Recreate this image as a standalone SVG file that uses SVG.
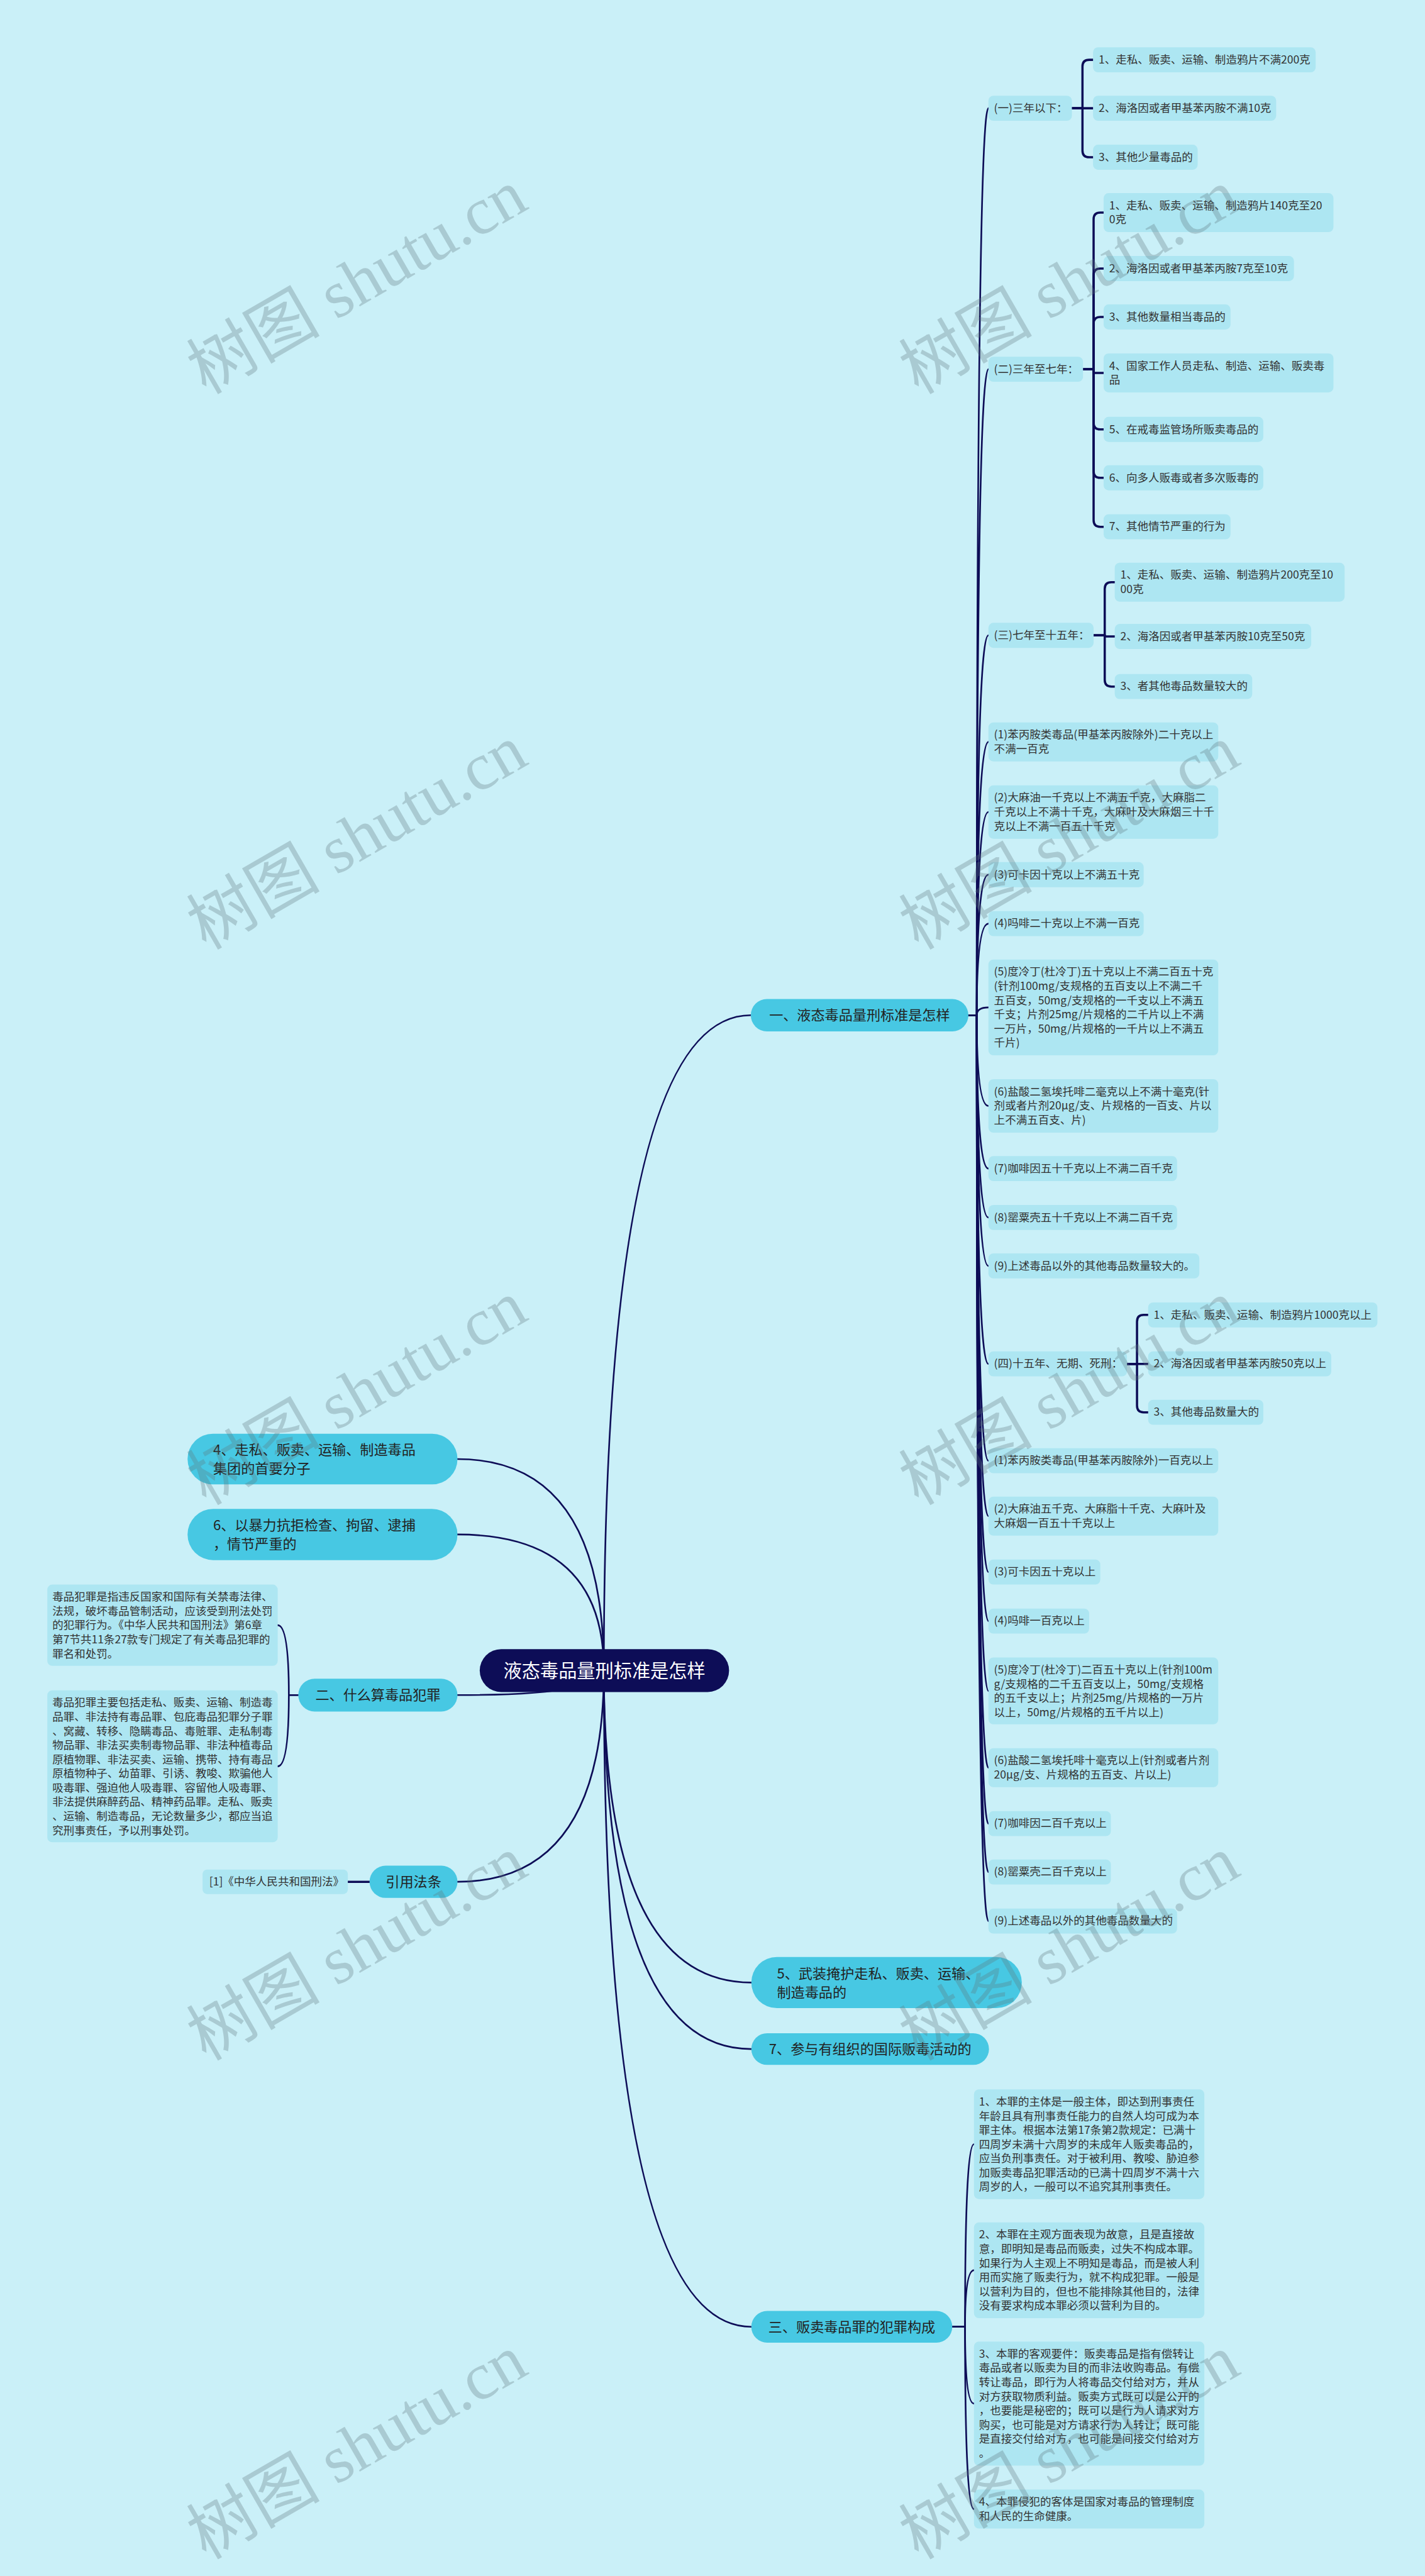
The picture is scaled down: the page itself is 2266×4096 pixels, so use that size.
<svg xmlns="http://www.w3.org/2000/svg" width="2266" height="4096" viewBox="0 0 2266 4096">
<style>
.bg{fill:#CAF0F8}
.n{fill:#ADE6F2}
.b{fill:#47C8E3}
.t{font-family:"Noto Sans CJK SC","Liberation Sans",sans-serif;font-size:19.8px;fill:#333}
.bt{font-family:"Noto Sans CJK SC","Liberation Sans",sans-serif;font-size:25px;fill:#222}
.rt{font-family:"Noto Sans CJK SC","Liberation Sans",sans-serif;font-size:33px;fill:#fff}
.c{fill:none;stroke:#0D0D57;stroke-width:3;stroke-linecap:round}
.k{fill:none;stroke:#0D0D57;stroke-width:4;stroke-linecap:round;stroke-linejoin:round}
.w{font-family:"Liberation Serif","Noto Sans CJK SC",serif;font-size:120px;fill:#5E767C;opacity:.3}
</style>
<rect class="bg" x="0" y="0" width="2266" height="4096"/>
<g transform="scale(0.885)">
<g id="connectors">
<path class="c" d="M1085 3001 Q1085 1824 1349 1824"/>
<path class="c" d="M1085 3001 Q1085 2621.5 822 2621.5"/>
<path class="c" d="M1085 3001 Q1085 2757 822 2757"/>
<path class="c" d="M1085 3001 Q1085 3045.5 822 3045.5"/>
<path class="c" d="M1085 3001 Q1085 3381 822 3381"/>
<path class="c" d="M1085 3001 Q1085 3562 1350 3562"/>
<path class="c" d="M1085 3001 Q1085 3681.5 1350 3681.5"/>
<path class="c" d="M1085 3001 Q1085 4180.5 1350 4180.5"/>
<path class="c" d="M1738 1824 L1755 1824 Q1755 194.5 1776 194.5"/>
<path class="c" d="M1738 1824 L1755 1824 Q1755 663.5 1776 663.5"/>
<path class="c" d="M1738 1824 L1755 1824 Q1755 1141.5 1776 1141.5"/>
<path class="c" d="M1738 1824 L1755 1824 Q1755 1333 1776 1333"/>
<path class="c" d="M1738 1824 L1755 1824 Q1755 1459 1776 1459"/>
<path class="c" d="M1738 1824 L1755 1824 Q1755 1571.5 1776 1571.5"/>
<path class="c" d="M1738 1824 L1755 1824 Q1755 1659.5 1776 1659.5"/>
<path class="c" d="M1738 1824 L1755 1824 Q1755 1810 1776 1810"/>
<path class="c" d="M1738 1824 L1755 1824 Q1755 1987 1776 1987"/>
<path class="c" d="M1738 1824 L1755 1824 Q1755 2099.5 1776 2099.5"/>
<path class="c" d="M1738 1824 L1755 1824 Q1755 2187.5 1776 2187.5"/>
<path class="c" d="M1738 1824 L1755 1824 Q1755 2274.5 1776 2274.5"/>
<path class="c" d="M1738 1824 L1755 1824 Q1755 2450.5 1776 2450.5"/>
<path class="c" d="M1738 1824 L1755 1824 Q1755 2624.5 1776 2624.5"/>
<path class="c" d="M1738 1824 L1755 1824 Q1755 2724 1776 2724"/>
<path class="c" d="M1738 1824 L1755 1824 Q1755 2824.5 1776 2824.5"/>
<path class="c" d="M1738 1824 L1755 1824 Q1755 2912.5 1776 2912.5"/>
<path class="c" d="M1738 1824 L1755 1824 Q1755 3038 1776 3038"/>
<path class="c" d="M1738 1824 L1755 1824 Q1755 3176 1776 3176"/>
<path class="c" d="M1738 1824 L1755 1824 Q1755 3276.5 1776 3276.5"/>
<path class="c" d="M1738 1824 L1755 1824 Q1755 3363.5 1776 3363.5"/>
<path class="c" d="M1738 1824 L1755 1824 Q1755 3451.5 1776 3451.5"/>
<path class="c" d="M1711 4180.5 L1734 4180.5 Q1734 3852.5 1750 3852.5"/>
<path class="c" d="M1711 4180.5 L1734 4180.5 Q1734 4079 1750 4079"/>
<path class="c" d="M1711 4180.5 L1734 4180.5 Q1734 4318.5 1750 4318.5"/>
<path class="c" d="M1711 4180.5 L1734 4180.5 Q1734 4508 1750 4508"/>
<path class="c" d="M536 3045.5 L519 3045.5 Q519 2920 499 2920"/>
<path class="c" d="M536 3045.5 L519 3045.5 Q519 3173.5 499 3173.5"/>
<path class="k" d="M664 3381 L625 3381"/>
<path class="k" d="M1926 194.5 H1945 V119.5 Q1945 107.5 1957 107.5 H1964"/>
<path class="k" d="M1926 194.5 H1964"/>
<path class="k" d="M1926 194.5 H1945 V270.5 Q1945 282.5 1957 282.5 H1964"/>
<path class="k" d="M1946 663.5 H1965 V394 Q1965 382 1977 382 H1983"/>
<path class="k" d="M1946 663.5 H1965 V494.5 Q1965 482.5 1977 482.5 H1983"/>
<path class="k" d="M1946 663.5 H1965 V581.5 Q1965 569.5 1977 569.5 H1983"/>
<path class="k" d="M1946 663.5 H1965 V670 H1983"/>
<path class="k" d="M1946 663.5 H1965 V759.5 Q1965 771.5 1977 771.5 H1983"/>
<path class="k" d="M1946 663.5 H1965 V846.5 Q1965 858.5 1977 858.5 H1983"/>
<path class="k" d="M1946 663.5 H1965 V934.5 Q1965 946.5 1977 946.5 H1983"/>
<path class="k" d="M1965 1141.5 H1985 V1058 Q1985 1046 1997 1046 H2003"/>
<path class="k" d="M1965 1141.5 H1985 V1143.5 H2003"/>
<path class="k" d="M1965 1141.5 H1985 V1221.5 Q1985 1233.5 1997 1233.5 H2003"/>
<path class="k" d="M2025 2450.5 H2043 V2374.5 Q2043 2362.5 2055 2362.5 H2063"/>
<path class="k" d="M2025 2450.5 H2063"/>
<path class="k" d="M2025 2450.5 H2043 V2525.5 Q2043 2537.5 2055 2537.5 H2063"/>
</g>

<g id="root">
<rect x="862" y="2963" width="448" height="77" rx="38.5" fill="#0D0D57"/>
<text class="rt" x="1086" y="3013" text-anchor="middle">液态毒品量刑标准是怎样</text>
</g>

<g id="b1">
<rect class="b" x="1349" y="1795" width="391" height="58" rx="29"/>
<text class="bt" x="1544.5" y="1833" text-anchor="middle">一、液态毒品量刑标准是怎样</text>
</g>
<g id="b4">
<rect class="b" x="337" y="2576" width="485" height="91" rx="45.5"/>
<text class="bt" x="383" y="2614"><tspan x="383">4、走私、贩卖、运输、制造毒品</tspan><tspan x="383" dy="33">集团的首要分子</tspan></text>
</g>
<g id="b6">
<rect class="b" x="337" y="2711" width="485" height="92" rx="46"/>
<text class="bt" x="383" y="2749.5"><tspan x="383">6、以暴力抗拒检查、拘留、逮捕</tspan><tspan x="383" dy="33">，情节严重的</tspan></text>
</g>
<g id="b2">
<rect class="b" x="536" y="3016" width="286" height="59" rx="29.5"/>
<text class="bt" x="679" y="3054.5" text-anchor="middle">二、什么算毒品犯罪</text>
</g>
<g id="bref">
<rect class="b" x="664" y="3352" width="158" height="58" rx="29"/>
<text class="bt" x="743" y="3390" text-anchor="middle">引用法条</text>
</g>
<g id="b5">
<rect class="b" x="1350" y="3516" width="486" height="92" rx="46"/>
<text class="bt" x="1396" y="3554.5"><tspan x="1396">5、武装掩护走私、贩卖、运输、</tspan><tspan x="1396" dy="34">制造毒品的</tspan></text>
</g>
<g id="b7">
<rect class="b" x="1350" y="3653" width="427" height="57" rx="28.5"/>
<text class="bt" x="1563.5" y="3690.5" text-anchor="middle">7、参与有组织的国际贩毒活动的</text>
</g>
<g id="b3">
<rect class="b" x="1350" y="4152" width="361" height="57" rx="28.5"/>
<text class="bt" x="1530.5" y="4189.5" text-anchor="middle">三、贩卖毒品罪的犯罪构成</text>
</g>

<g id="ref1">
<rect class="n" x="364" y="3359" width="261" height="44" rx="8"/>
<text class="t" x="376" y="3388">[1]《中华人民共和国刑法》</text>
</g>
<g id="l1">
<rect class="n" x="85" y="2847" width="414" height="146" rx="9"/>
<text class="t" x="94" y="2876"><tspan x="94">毒品犯罪是指违反国家和国际有关禁毒法律、</tspan><tspan x="94" dy="25.5">法规，破坏毒品管制活动，应该受到刑法处罚</tspan><tspan x="94" dy="25.5">的犯罪行为。《中华人民共和国刑法》第6章</tspan><tspan x="94" dy="25.5">第7节共11条27款专门规定了有关毒品犯罪的</tspan><tspan x="94" dy="25.5">罪名和处罚。</tspan></text>
</g>
<g id="l2">
<rect class="n" x="85" y="3037" width="414" height="273" rx="9"/>
<text class="t" x="94" y="3066"><tspan x="94">毒品犯罪主要包括走私、贩卖、运输、制造毒</tspan><tspan x="94" dy="25.5">品罪、非法持有毒品罪、包庇毒品犯罪分子罪</tspan><tspan x="94" dy="25.5">、窝藏、转移、隐瞒毒品、毒赃罪、走私制毒</tspan><tspan x="94" dy="25.5">物品罪、非法买卖制毒物品罪、非法种植毒品</tspan><tspan x="94" dy="25.5">原植物罪、非法买卖、运输、携带、持有毒品</tspan><tspan x="94" dy="25.5">原植物种子、幼苗罪、引诱、教唆、欺骗他人</tspan><tspan x="94" dy="25.5">吸毒罪、强迫他人吸毒罪、容留他人吸毒罪、</tspan><tspan x="94" dy="25.5">非法提供麻醉药品、精神药品罪。走私、贩卖</tspan><tspan x="94" dy="25.5">、运输、制造毒品，无论数量多少，都应当追</tspan><tspan x="94" dy="25.5">究刑事责任，予以刑事处罚。</tspan></text>
</g>

<g id="s1">
<rect class="n" x="1776" y="172" width="150" height="45" rx="9"/>
<text class="t" x="1786" y="201">(一)三年以下：</text>
</g>
<g id="s1a"><rect class="n" x="1964" y="85" width="400" height="45" rx="9"/><text class="t" x="1974" y="114">1、走私、贩卖、运输、制造鸦片不满200克</text></g>
<g id="s1b"><rect class="n" x="1964" y="172" width="329" height="45" rx="9"/><text class="t" x="1974" y="201">2、海洛因或者甲基苯丙胺不满10克</text></g>
<g id="s1c"><rect class="n" x="1964" y="260" width="188" height="45" rx="9"/><text class="t" x="1974" y="289">3、其他少量毒品的</text></g>

<g id="s2">
<rect class="n" x="1776" y="641" width="170" height="45" rx="9"/>
<text class="t" x="1786" y="670">(二)三年至七年：</text>
</g>
<g id="s2a"><rect class="n" x="1983" y="347" width="413" height="70" rx="9"/><text class="t" x="1993" y="376"><tspan x="1993">1、走私、贩卖、运输、制造鸦片140克至20</tspan><tspan x="1993" dy="25.5">0克</tspan></text></g>
<g id="s2b"><rect class="n" x="1983" y="460" width="342" height="45" rx="9"/><text class="t" x="1993" y="489">2、海洛因或者甲基苯丙胺7克至10克</text></g>
<g id="s2c"><rect class="n" x="1983" y="547" width="228" height="45" rx="9"/><text class="t" x="1993" y="576">3、其他数量相当毒品的</text></g>
<g id="s2d"><rect class="n" x="1983" y="635" width="413" height="70" rx="9"/><text class="t" x="1993" y="664"><tspan x="1993">4、国家工作人员走私、制造、运输、贩卖毒</tspan><tspan x="1993" dy="25.5">品</tspan></text></g>
<g id="s2e"><rect class="n" x="1983" y="749" width="287" height="45" rx="9"/><text class="t" x="1993" y="778">5、在戒毒监管场所贩卖毒品的</text></g>
<g id="s2f"><rect class="n" x="1983" y="836" width="287" height="45" rx="9"/><text class="t" x="1993" y="865">6、向多人贩毒或者多次贩毒的</text></g>
<g id="s2g"><rect class="n" x="1983" y="924" width="228" height="45" rx="9"/><text class="t" x="1993" y="953">7、其他情节严重的行为</text></g>

<g id="s3">
<rect class="n" x="1776" y="1119" width="189" height="45" rx="9"/>
<text class="t" x="1786" y="1148">(三)七年至十五年：</text>
</g>
<g id="s3a"><rect class="n" x="2003" y="1011" width="413" height="70" rx="9"/><text class="t" x="2013" y="1040"><tspan x="2013">1、走私、贩卖、运输、制造鸦片200克至10</tspan><tspan x="2013" dy="25.5">00克</tspan></text></g>
<g id="s3b"><rect class="n" x="2003" y="1121" width="353" height="45" rx="9"/><text class="t" x="2013" y="1150">2、海洛因或者甲基苯丙胺10克至50克</text></g>
<g id="s3c"><rect class="n" x="2003" y="1211" width="247" height="45" rx="9"/><text class="t" x="2013" y="1240">3、者其他毒品数量较大的</text></g>

<g id="p1"><rect class="n" x="1776" y="1298" width="413" height="70" rx="9"/><text class="t" x="1786" y="1327"><tspan x="1786">(1)苯丙胺类毒品(甲基苯丙胺除外)二十克以上</tspan><tspan x="1786" dy="25.5">不满一百克</tspan></text></g>
<g id="p2"><rect class="n" x="1776" y="1411" width="413" height="96" rx="9"/><text class="t" x="1786" y="1440"><tspan x="1786">(2)大麻油一千克以上不满五千克，大麻脂二</tspan><tspan x="1786" dy="25.5">千克以上不满十千克，大麻叶及大麻烟三十千</tspan><tspan x="1786" dy="25.5">克以上不满一百五十千克</tspan></text></g>
<g id="p3"><rect class="n" x="1776" y="1549" width="279" height="45" rx="9"/><text class="t" x="1786" y="1578">(3)可卡因十克以上不满五十克</text></g>
<g id="p4"><rect class="n" x="1776" y="1637" width="279" height="45" rx="9"/><text class="t" x="1786" y="1666">(4)吗啡二十克以上不满一百克</text></g>
<g id="p5"><rect class="n" x="1776" y="1724" width="413" height="172" rx="9"/><text class="t" x="1786" y="1753"><tspan x="1786">(5)度冷丁(杜冷丁)五十克以上不满二百五十克</tspan><tspan x="1786" dy="25.5">(针剂100mg/支规格的五百支以上不满二千</tspan><tspan x="1786" dy="25.5">五百支，50mg/支规格的一千支以上不满五</tspan><tspan x="1786" dy="25.5">千支；片剂25mg/片规格的二千片以上不满</tspan><tspan x="1786" dy="25.5">一万片，50mg/片规格的一千片以上不满五</tspan><tspan x="1786" dy="25.5">千片)</tspan></text></g>
<g id="p6"><rect class="n" x="1776" y="1939" width="413" height="96" rx="9"/><text class="t" x="1786" y="1968"><tspan x="1786">(6)盐酸二氢埃托啡二毫克以上不满十毫克(针</tspan><tspan x="1786" dy="25.5">剂或者片剂20μg/支、片规格的一百支、片以</tspan><tspan x="1786" dy="25.5">上不满五百支、片)</tspan></text></g>
<g id="p7"><rect class="n" x="1776" y="2077" width="339" height="45" rx="9"/><text class="t" x="1786" y="2106">(7)咖啡因五十千克以上不满二百千克</text></g>
<g id="p8"><rect class="n" x="1776" y="2165" width="339" height="45" rx="9"/><text class="t" x="1786" y="2194">(8)罂粟壳五十千克以上不满二百千克</text></g>
<g id="p9"><rect class="n" x="1776" y="2252" width="379" height="45" rx="9"/><text class="t" x="1786" y="2281">(9)上述毒品以外的其他毒品数量较大的。</text></g>

<g id="s4">
<rect class="n" x="1776" y="2428" width="249" height="45" rx="9"/>
<text class="t" x="1786" y="2457">(四)十五年、无期、死刑：</text>
</g>
<g id="s4a"><rect class="n" x="2063" y="2340" width="412" height="45" rx="9"/><text class="t" x="2073" y="2369">1、走私、贩卖、运输、制造鸦片1000克以上</text></g>
<g id="s4b"><rect class="n" x="2063" y="2428" width="329" height="45" rx="9"/><text class="t" x="2073" y="2457">2、海洛因或者甲基苯丙胺50克以上</text></g>
<g id="s4c"><rect class="n" x="2063" y="2515" width="207" height="45" rx="9"/><text class="t" x="2073" y="2544">3、其他毒品数量大的</text></g>

<g id="q1"><rect class="n" x="1776" y="2602" width="413" height="45" rx="9"/><text class="t" x="1786" y="2631">(1)苯丙胺类毒品(甲基苯丙胺除外)一百克以上</text></g>
<g id="q2"><rect class="n" x="1776" y="2689" width="413" height="70" rx="9"/><text class="t" x="1786" y="2718"><tspan x="1786">(2)大麻油五千克、大麻脂十千克、大麻叶及</tspan><tspan x="1786" dy="25.5">大麻烟一百五十千克以上</tspan></text></g>
<g id="q3"><rect class="n" x="1776" y="2802" width="201" height="45" rx="9"/><text class="t" x="1786" y="2831">(3)可卡因五十克以上</text></g>
<g id="q4"><rect class="n" x="1776" y="2890" width="181" height="45" rx="9"/><text class="t" x="1786" y="2919">(4)吗啡一百克以上</text></g>
<g id="q5"><rect class="n" x="1776" y="2978" width="413" height="120" rx="9"/><text class="t" x="1786" y="3007"><tspan x="1786">(5)度冷丁(杜冷丁)二百五十克以上(针剂100m</tspan><tspan x="1786" dy="25.5">g/支规格的二千五百支以上，50mg/支规格</tspan><tspan x="1786" dy="25.5">的五千支以上；片剂25mg/片规格的一万片</tspan><tspan x="1786" dy="25.5">以上，50mg/片规格的五千片以上)</tspan></text></g>
<g id="q6"><rect class="n" x="1776" y="3141" width="413" height="70" rx="9"/><text class="t" x="1786" y="3170"><tspan x="1786">(6)盐酸二氢埃托啡十毫克以上(针剂或者片剂</tspan><tspan x="1786" dy="25.5">20μg/支、片规格的五百支、片以上)</tspan></text></g>
<g id="q7"><rect class="n" x="1776" y="3254" width="220" height="45" rx="9"/><text class="t" x="1786" y="3283">(7)咖啡因二百千克以上</text></g>
<g id="q8"><rect class="n" x="1776" y="3341" width="220" height="45" rx="9"/><text class="t" x="1786" y="3370">(8)罂粟壳二百千克以上</text></g>
<g id="q9"><rect class="n" x="1776" y="3429" width="339" height="45" rx="9"/><text class="t" x="1786" y="3458">(9)上述毒品以外的其他毒品数量大的</text></g>

<g id="c1"><rect class="n" x="1750" y="3754" width="414" height="197" rx="9"/><text class="t" x="1759" y="3783"><tspan x="1759">1、本罪的主体是一般主体，即达到刑事责任</tspan><tspan x="1759" dy="25.5">年龄且具有刑事责任能力的自然人均可成为本</tspan><tspan x="1759" dy="25.5">罪主体。根据本法第17条第2款规定：已满十</tspan><tspan x="1759" dy="25.5">四周岁未满十六周岁的未成年人贩卖毒品的，</tspan><tspan x="1759" dy="25.5">应当负刑事责任。对于被利用、教唆、胁迫参</tspan><tspan x="1759" dy="25.5">加贩卖毒品犯罪活动的已满十四周岁不满十六</tspan><tspan x="1759" dy="25.5">周岁的人，一般可以不追究其刑事责任。</tspan></text></g>
<g id="c2"><rect class="n" x="1750" y="3993" width="414" height="172" rx="9"/><text class="t" x="1759" y="4022"><tspan x="1759">2、本罪在主观方面表现为故意，且是直接故</tspan><tspan x="1759" dy="25.5">意，即明知是毒品而贩卖，过失不构成本罪。</tspan><tspan x="1759" dy="25.5">如果行为人主观上不明知是毒品，而是被人利</tspan><tspan x="1759" dy="25.5">用而实施了贩卖行为，就不构成犯罪。一般是</tspan><tspan x="1759" dy="25.5">以营利为目的，但也不能排除其他目的，法律</tspan><tspan x="1759" dy="25.5">没有要求构成本罪必须以营利为目的。</tspan></text></g>
<g id="c3"><rect class="n" x="1750" y="4207" width="414" height="223" rx="9"/><text class="t" x="1759" y="4236"><tspan x="1759">3、本罪的客观要件：贩卖毒品是指有偿转让</tspan><tspan x="1759" dy="25.5">毒品或者以贩卖为目的而非法收购毒品。有偿</tspan><tspan x="1759" dy="25.5">转让毒品，即行为人将毒品交付给对方，并从</tspan><tspan x="1759" dy="25.5">对方获取物质利益。贩卖方式既可以是公开的</tspan><tspan x="1759" dy="25.5">，也要能是秘密的；既可以是行为人请求对方</tspan><tspan x="1759" dy="25.5">购买，也可能是对方请求行为人转让；既可能</tspan><tspan x="1759" dy="25.5">是直接交付给对方，也可能是间接交付给对方</tspan><tspan x="1759" dy="25.5">。</tspan></text></g>
<g id="c4"><rect class="n" x="1750" y="4473" width="414" height="70" rx="9"/><text class="t" x="1759" y="4502"><tspan x="1759">4、本罪侵犯的客体是国家对毒品的管理制度</tspan><tspan x="1759" dy="25.5">和人民的生命健康。</tspan></text></g>

<g id="watermarks">
<text class="w" x="370" y="710" transform="rotate(-30 370 710)">树图 shutu.cn</text>
<text class="w" x="1650" y="710" transform="rotate(-30 1650 710)">树图 shutu.cn</text>
<text class="w" x="370" y="1708" transform="rotate(-30 370 1708)">树图 shutu.cn</text>
<text class="w" x="1650" y="1708" transform="rotate(-30 1650 1708)">树图 shutu.cn</text>
<text class="w" x="370" y="2706" transform="rotate(-30 370 2706)">树图 shutu.cn</text>
<text class="w" x="1650" y="2706" transform="rotate(-30 1650 2706)">树图 shutu.cn</text>
<text class="w" x="370" y="3704" transform="rotate(-30 370 3704)">树图 shutu.cn</text>
<text class="w" x="1650" y="3704" transform="rotate(-30 1650 3704)">树图 shutu.cn</text>
<text class="w" x="370" y="4600" transform="rotate(-30 370 4600)">树图 shutu.cn</text>
<text class="w" x="1650" y="4600" transform="rotate(-30 1650 4600)">树图 shutu.cn</text>
</g>
</g>
</svg>
